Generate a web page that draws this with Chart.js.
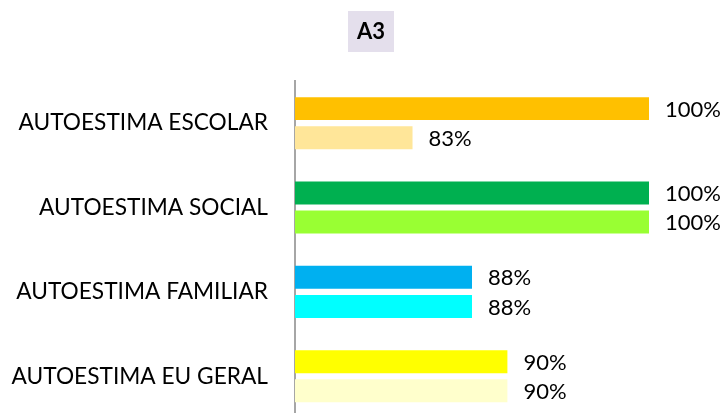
<!DOCTYPE html>
<html>
<head>
<meta charset="utf-8">
<script src="https://cdn.jsdelivr.net/npm/chart.js@4.4.1/dist/chart.umd.min.js"></script>
<style>
  html, body { margin: 0; padding: 0; background: #fff; overflow: hidden; }
  #wrap { width: 727px; height: 413px; overflow: hidden; }
  #box { position: relative; width: 727px; height: 459px; }
</style>
</head>
<body>
<div id="wrap"><div id="box"><canvas id="grafico"></canvas></div></div>
<script>
var categorias = ['AUTOESTIMA ESCOLAR', 'AUTOESTIMA SOCIAL', 'AUTOESTIMA FAMILIAR', 'AUTOESTIMA EU GERAL'];
var serieA = [100, 100, 87.5, 90];
var serieB = [83.3, 100, 87.5, 90];
var rotulosA = ['100%', '100%', '88%', '90%'];
var rotulosB = ['83%', '100%', '88%', '90%'];
var coresA = ['#FFC000', '#00B050', '#00B0F0', '#FFFF00'];
var coresB = ['#FFE699', '#99FF33', '#00FFFF', '#FFFFCC'];
var titulo = 'A3';

var fonte = 'Lato, "Open Sans", sans-serif';

// desenha o titulo com fundo e os rotulos de valor
var pluginRotulos = {
	id: 'rotulos',
	afterDatasetsDraw: function(chart) {
		var ctx = chart.ctx;
		var rotulos = [rotulosA, rotulosB];
		ctx.save();
		ctx.font = '22px ' + fonte;
		ctx.fillStyle = '#000';
		ctx.textBaseline = 'middle';
		ctx.textAlign = 'left';
		chart.data.datasets.forEach(function(ds, i) {
			chart.getDatasetMeta(i).data.forEach(function(bar, j) {
				ctx.fillText(rotulos[i][j], bar.x + 16, bar.y + 1);
			});
		});

		ctx.fillStyle = '#E4DFEC';
		ctx.fillRect(348, 11, 46, 41);
		ctx.fillStyle = '#000';
		ctx.font = 'bold 22px ' + fonte;
		ctx.textAlign = 'center';
		ctx.fillText(titulo, 371, 32);
		ctx.restore();
	}
};

var grafico = new Chart(document.getElementById('grafico').getContext('2d'), {
	type: 'bar',
	data: {
		labels: categorias,
		datasets: [{
			data: serieA,
			backgroundColor: coresA
		}, {
			data: serieB,
			backgroundColor: coresB
		}]
	},
	options: {
		indexAxis: 'y',
		responsive: true,
		maintainAspectRatio: false,
		animation: false,
		categoryPercentage: 0.69,
		barPercentage: 0.79,
		layout: { padding: { top: 81, right: 78, bottom: 2, left: 0 } },
		plugins: {
			legend: { display: false },
			tooltip: { enabled: false }
		},
		scales: {
			x: {
				display: false,
				min: 75,
				max: 100
			},
			y: {
				grid: { display: false, drawTicks: false },
				border: { color: '#A6A6A6', width: 2 },
				ticks: {
					color: '#000',
					padding: 27,
					font: { family: fonte, size: 22.7 }
				},
				afterFit: function(scale) { scale.width = 295; }
			}
		}
	},
	plugins: [pluginRotulos]
});
</script>
</body>
</html>
